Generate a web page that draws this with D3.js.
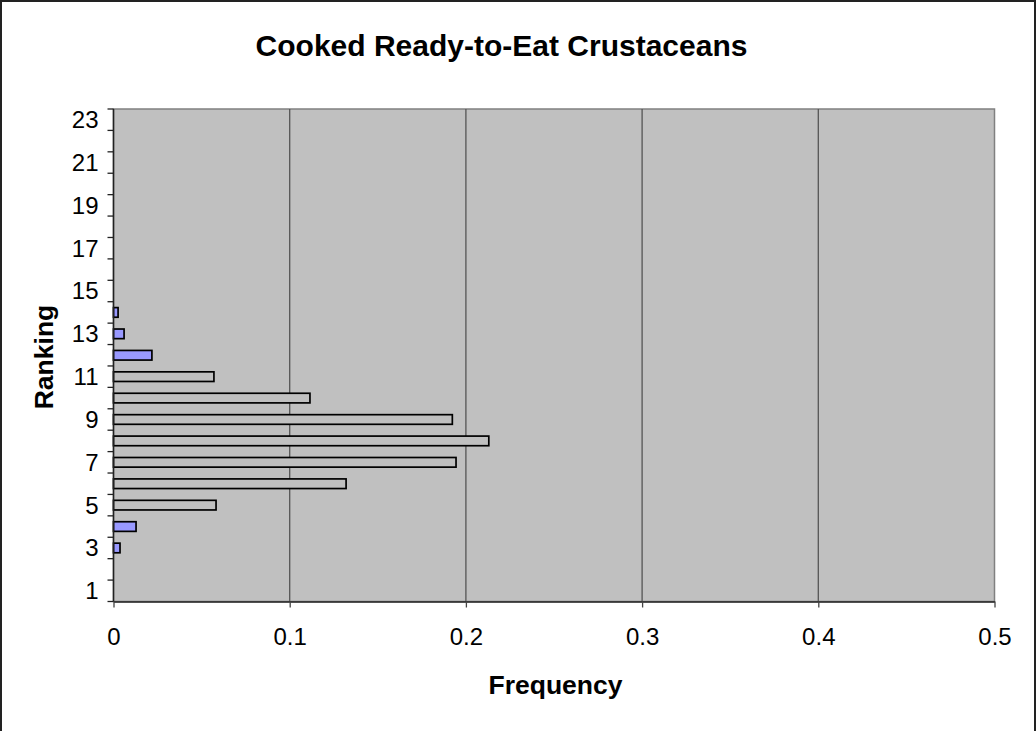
<!DOCTYPE html>
<html>
<head>
<meta charset="utf-8">
<script src="https://cdn.jsdelivr.net/npm/d3@7"></script>
<style>
  body { margin: 0; background: #fff; }
  svg { display: block; }
  text { font-family: "Liberation Sans", Arial, sans-serif; fill: #000; }
</style>
</head>
<body>
<svg id="chart" width="1036" height="731"></svg>
<script>
// ---- data ----
const rankings = d3.range(1, 24);                       // categories 1..23
const rankTickLabels = [1, 3, 5, 7, 9, 11, 13, 15, 17, 19, 21, 23];
const tailFrequency    = [null, null, 0.0037, 0.0128, null, null, null, null, null, null, null, 0.0218, 0.0060, 0.0026, null, null, null, null, null, null, null, null, null];
const centralFrequency = [null, null, null, null, 0.0582, 0.132, 0.1944, 0.213, 0.1923, 0.1115, 0.057, null, null, null, null, null, null, null, null, null, null, null, null];
const frequencyTicks = [0, 0.1, 0.2, 0.3, 0.4, 0.5];
const titleText = "Cooked Ready-to-Eat Crustaceans";
const xTitle = "Frequency";
const yTitle = "Ranking";

// ---- layout ----
const svg = d3.select("#chart");
const W = 1036, H = 731;
const plot = { left: 113.5, right: 994.5, top: 109, bottom: 601.5 };

svg.append("rect").attr("x", 1).attr("y", 1).attr("width", W - 2).attr("height", H + 4)
  .attr("fill", "#fff").attr("stroke", "#222").attr("stroke-width", 2);

const x = d3.scaleLinear().domain([0, 0.5]).range([plot.left, plot.right]);
const y = d3.scaleBand().domain(rankings).range([plot.bottom, plot.top]).paddingInner(0.55).paddingOuter(0.275);
const yBand = d3.scaleBand().domain(rankings).range([plot.bottom, plot.top]);

// plot background
svg.append("rect").attr("x", plot.left).attr("y", plot.top)
  .attr("width", plot.right - plot.left).attr("height", plot.bottom - plot.top)
  .attr("fill", "#c0c0c0").attr("stroke", "#808080").attr("stroke-width", 1.5);

// gridlines
svg.append("g").selectAll("line").data(frequencyTicks.slice(1, -1)).join("line")
  .attr("x1", d => x(d)).attr("x2", d => x(d))
  .attr("y1", plot.top).attr("y2", plot.bottom)
  .attr("stroke", "#555").attr("stroke-width", 1.3);

// bars
function drawBars(values, fill) {
  const data = rankings.map((r, i) => ({ r, v: values[i] })).filter(d => d.v != null);
  svg.append("g").selectAll("rect").data(data).join("rect")
    .attr("x", x(0))
    .attr("y", d => y(d.r))
    .attr("width", d => x(d.v) - x(0))
    .attr("height", y.bandwidth())
    .attr("fill", fill)
    .attr("stroke", "#000").attr("stroke-width", 1.7);
}
drawBars(centralFrequency, "#c0c0c0");
drawBars(tailFrequency, "#9999ff");

// x axis
const xAxis = svg.append("g").attr("transform", `translate(0,${plot.bottom})`)
  .call(d3.axisBottom(x).tickValues(frequencyTicks).tickFormat(d3.format("")).tickSizeInner(6).tickSizeOuter(0).tickPadding(20));
xAxis.select(".domain").attr("stroke", "#222").attr("stroke-width", 1.5);
xAxis.selectAll(".tick line").attr("stroke", "#444").attr("stroke-width", 1.3);
xAxis.selectAll("text").attr("font-size", 24).attr("font-family", "Liberation Sans, Arial, sans-serif").attr("fill", "#000");

// y axis: ticks at band boundaries, labels at band centers
const yAxisG = svg.append("g");
yAxisG.append("line").attr("x1", plot.left).attr("x2", plot.left)
  .attr("y1", plot.top).attr("y2", plot.bottom).attr("stroke", "#222").attr("stroke-width", 1.5);
const boundaries = rankings.map(r => yBand(r)).concat([plot.bottom]);
yAxisG.selectAll("line.tk").data(boundaries).join("line").attr("class", "tk")
  .attr("x1", plot.left - 6).attr("x2", plot.left)
  .attr("y1", d => d).attr("y2", d => d)
  .attr("stroke", "#222").attr("stroke-width", 1.3);
yAxisG.selectAll("text").data(rankTickLabels).join("text")
  .attr("x", 98.5)
  .attr("y", d => yBand(d) + yBand.bandwidth() / 2)
  .attr("dy", "0.35em")
  .attr("text-anchor", "end")
  .attr("font-size", 24)
  .text(d => d);

// titles
svg.append("text").attr("x", 501.5).attr("y", 56).attr("text-anchor", "middle")
  .attr("font-size", 30).attr("font-weight", "bold").text(titleText);
svg.append("text").attr("x", 555.5).attr("y", 694).attr("text-anchor", "middle")
  .attr("font-size", 26.5).attr("font-weight", "bold").text(xTitle);
svg.append("text").attr("transform", "translate(53,357) rotate(-90)").attr("text-anchor", "middle")
  .attr("font-size", 26.5).attr("font-weight", "bold").text(yTitle);
</script>
</body>
</html>
